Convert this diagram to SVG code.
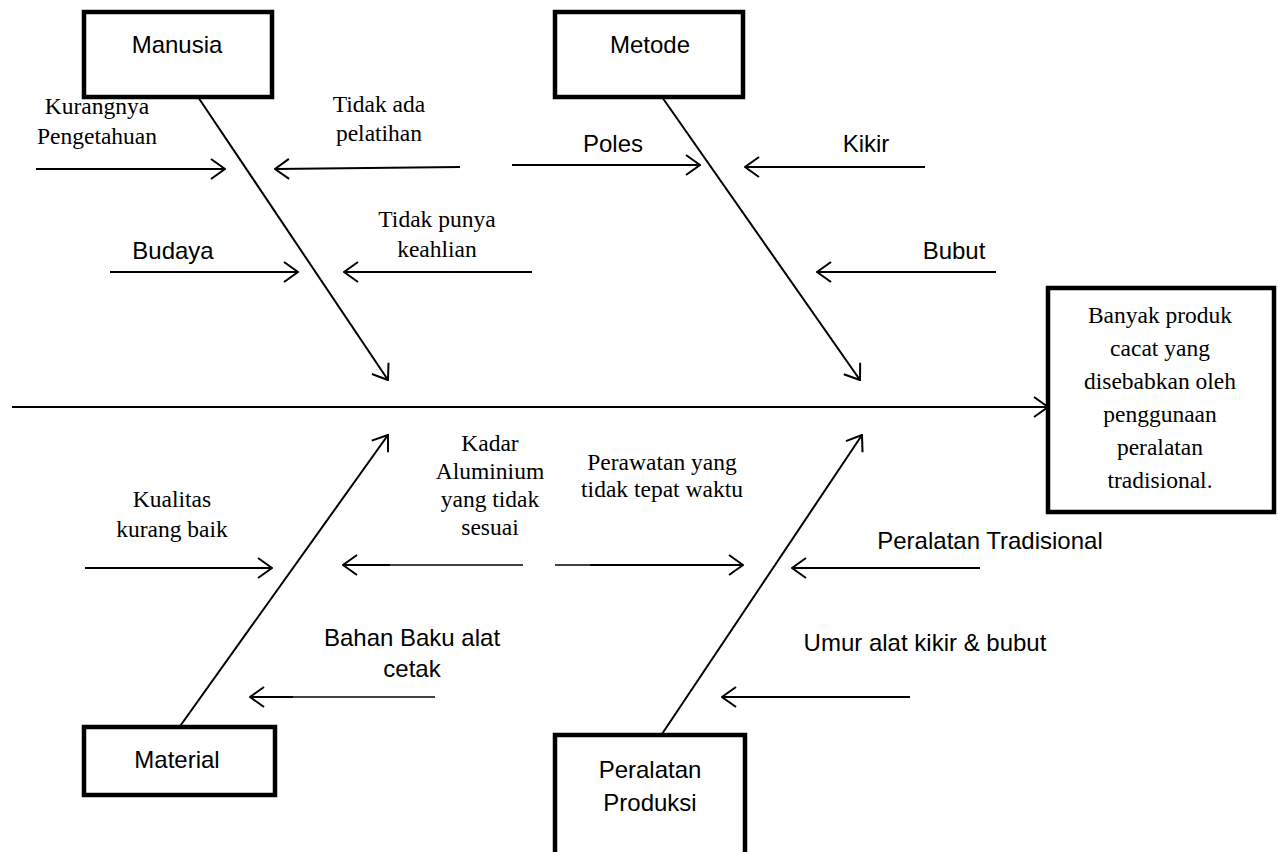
<svg xmlns="http://www.w3.org/2000/svg" width="1278" height="852" viewBox="0 0 1278 852">
<style>
  .box { fill: #fff; stroke: #000; stroke-width: 4.5; }
  .ln { stroke: #000; stroke-width: 2; fill: none; }
  .thin { stroke: #000; stroke-width: 1.3; fill: none; }
  .sans { font-family: "Liberation Sans", Arial, sans-serif; font-size: 24px; fill: #000; text-anchor: middle; }
  .serif { font-family: "Liberation Serif", "Times New Roman", serif; font-size: 23.5px; fill: #000; text-anchor: middle; }
</style>
<defs>
  <marker id="ah" markerUnits="userSpaceOnUse" viewBox="0 0 16 24" refX="15" refY="12" markerWidth="16" markerHeight="24" orient="auto">
    <path d="M1,2 L15,12 L1,22" fill="none" stroke="#000" stroke-width="2"/>
  </marker>
</defs>
<rect width="1278" height="852" fill="#fff"/>

<g id="connectors">
  <line class="ln" x1="12" y1="407" x2="1048" y2="407" stroke-width="2.5" marker-end="url(#ah)"/>
  <line class="ln" x1="198" y1="97" x2="388" y2="380" marker-end="url(#ah)"/>
  <line class="ln" x1="662" y1="97" x2="860" y2="380" marker-end="url(#ah)"/>
  <line class="ln" x1="178" y1="729" x2="388" y2="435" marker-end="url(#ah)"/>
  <line class="ln" x1="660" y1="737" x2="862" y2="435" marker-end="url(#ah)"/>

  <line class="ln" x1="36" y1="169" x2="225" y2="169" marker-end="url(#ah)"/>
  <line class="ln" x1="460" y1="167" x2="275" y2="169" marker-end="url(#ah)"/>
  <line class="ln" x1="110" y1="272" x2="298" y2="272" marker-end="url(#ah)"/>
  <line class="ln" x1="532" y1="272" x2="344" y2="272" marker-end="url(#ah)"/>
  <line class="ln" x1="512" y1="165" x2="700" y2="165" marker-end="url(#ah)"/>
  <line class="ln" x1="925" y1="167" x2="745" y2="167" marker-end="url(#ah)"/>
  <line class="ln" x1="996" y1="272" x2="817" y2="272" marker-end="url(#ah)"/>

  <line class="ln" x1="85" y1="568" x2="272" y2="568" marker-end="url(#ah)"/>
  <line class="thin" x1="523" y1="565" x2="388" y2="565"/>
  <line class="ln" x1="390" y1="565" x2="343" y2="565" marker-end="url(#ah)"/>
  <line class="thin" x1="555" y1="565" x2="592" y2="565"/>
  <line class="ln" x1="590" y1="565" x2="743" y2="565" marker-end="url(#ah)"/>
  <line class="ln" x1="980" y1="568" x2="792" y2="568" marker-end="url(#ah)"/>
  <line class="thin" x1="435" y1="697" x2="291" y2="697"/>
  <line class="ln" x1="293" y1="697" x2="250" y2="697" marker-end="url(#ah)"/>
  <line class="ln" x1="910" y1="697" x2="722" y2="697" marker-end="url(#ah)"/>
</g>

<g id="manusia">
  <rect class="box" x="84" y="12" width="188" height="85"/>
  <text class="sans" x="177" y="53">Manusia</text>
</g>
<g id="metode">
  <rect class="box" x="555" y="12" width="188" height="85"/>
  <text class="sans" x="650" y="53">Metode</text>
</g>
<g id="material">
  <rect class="box" x="84" y="727" width="191" height="68"/>
  <text class="sans" x="177" y="768">Material</text>
</g>
<g id="peralatan-produksi">
  <rect class="box" x="555" y="735" width="190" height="140"/>
  <text class="sans" x="650" y="778">Peralatan</text>
  <text class="sans" x="650" y="811">Produksi</text>
</g>
<g id="effect">
  <rect class="box" x="1048" y="288" width="226" height="224"/>
  <text class="serif" x="1160" y="323">Banyak produk</text>
  <text class="serif" x="1160" y="356">cacat yang</text>
  <text class="serif" x="1160" y="389">disebabkan oleh</text>
  <text class="serif" x="1160" y="422">penggunaan</text>
  <text class="serif" x="1160" y="455">peralatan</text>
  <text class="serif" x="1160" y="488">tradisional.</text>
</g>

<g id="cause-kurangnya">
  <text class="serif" x="97" y="114">Kurangnya</text>
  <text class="serif" x="97" y="144">Pengetahuan</text>
</g>
<g id="cause-tidak-ada">
  <text class="serif" x="379" y="112">Tidak ada</text>
  <text class="serif" x="379" y="141">pelatihan</text>
</g>
<g id="cause-budaya">
  <text class="sans" x="173" y="259">Budaya</text>
</g>
<g id="cause-tidak-punya">
  <text class="serif" x="437" y="227">Tidak punya</text>
  <text class="serif" x="437" y="257">keahlian</text>
</g>
<g id="cause-poles">
  <text class="sans" x="613" y="152">Poles</text>
</g>
<g id="cause-kikir">
  <text class="sans" x="866" y="152">Kikir</text>
</g>
<g id="cause-bubut">
  <text class="sans" x="954" y="259">Bubut</text>
</g>
<g id="cause-kualitas">
  <text class="serif" x="172" y="507">Kualitas</text>
  <text class="serif" x="172" y="537">kurang baik</text>
</g>
<g id="cause-kadar">
  <text class="serif" x="490" y="451">Kadar</text>
  <text class="serif" x="490" y="479">Aluminium</text>
  <text class="serif" x="490" y="507">yang tidak</text>
  <text class="serif" x="490" y="535">sesuai</text>
</g>
<g id="cause-perawatan">
  <text class="serif" x="662" y="470">Perawatan yang</text>
  <text class="serif" x="662" y="497">tidak tepat waktu</text>
</g>
<g id="cause-peralatan-tradisional">
  <text class="sans" x="990" y="549">Peralatan Tradisional</text>
</g>
<g id="cause-bahan-baku">
  <text class="sans" x="412" y="646">Bahan Baku alat</text>
  <text class="sans" x="412" y="677">cetak</text>
</g>
<g id="cause-umur">
  <text class="sans" x="925" y="651">Umur alat kikir &amp; bubut</text>
</g>
</svg>
